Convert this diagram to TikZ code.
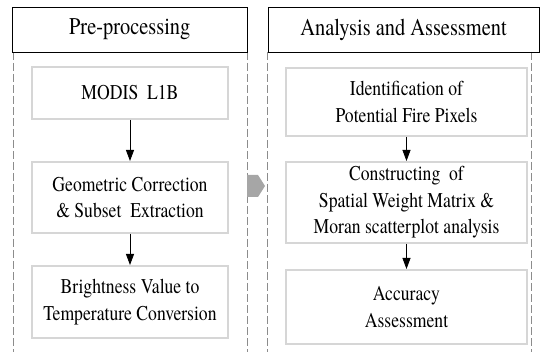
\documentclass[tikz,border=0pt]{standalone}
\usepackage{fontspec}
\setmainfont{TeX Gyre Termes}
\usepackage{graphicx}
\usetikzlibrary{arrows.meta}
\definecolor{boxgray}{HTML}{D6D6D6}
\definecolor{dashgray}{HTML}{8C8C8C}
\definecolor{arrgray}{HTML}{A6A6A6}
\newcommand{\hsq}[2]{\scalebox{#1}[1]{#2}}
\newcommand{\bt}[1]{\hsq{0.84}{#1}}
\tikzset{
  header/.style={draw=black, line width=0.8pt, minimum width=#1, minimum height=45pt, inner sep=0pt, font=\fontsize{24}{28}\selectfont},
  stepbox/.style={draw=boxgray, line width=2pt, minimum width=#1, inner sep=0pt, align=center, font=\fontsize{21}{26.5}\selectfont},
  panelline/.style={draw=dashgray, line width=0.8pt, dash pattern=on 8pt off 3pt},
  flow/.style={draw=black, line width=0.8pt, -{Triangle[length=11pt,width=8pt]}},
}
\begin{document}
\begin{tikzpicture}[x=1pt,y=-1pt]
\useasboundingbox (0,0) rectangle (540,352);
% panel frames
\draw[panelline] (13,52) -- (13,352);
\draw[panelline] (247,52) -- (247,352);
\draw[panelline] (267,52) -- (267,352);
\draw[panelline] (531,52) -- (531,352);
\node[header=234.5pt] (hpre) at (129.75,29.5) {\hsq{0.85}{Pre-processing}};
\node[header=271pt] (hana) at (403.5,29.5) {\hsq{0.85}{Analysis and Assessment}};
% left column
\node[stepbox=196pt, minimum height=52pt] (modis) at (130,93) {\bt{MODIS\ \ L1B}};
\node[stepbox=196pt, minimum height=71pt] (geo) at (130,197.5) {\bt{Geometric Correction}\\\bt{\& Subset\ \ Extraction}};
\node[stepbox=196pt, minimum height=72pt] (bright) at (130,302) {\bt{Brightness Value to}\\\bt{Temperature Conversion}};
% right column
\node[stepbox=241pt, minimum height=68pt] (ident) at (406.5,102) {\bt{Identification of}\\\bt{Potential Fire Pixels}};
\node[stepbox=241pt, minimum height=81pt] (cons) at (406.5,202.5) {\bt{Constructing\ \ of}\\\bt{Spatial Weight Matrix \&}\\\bt{Moran scatterplot analysis}};
\node[stepbox=241pt, minimum height=74pt] (acc) at (406.5,307) {\bt{Accuracy}\\\bt{Assessment}};
% flow arrows
\draw[flow] (modis) -- (geo);
\draw[flow] (geo) -- (bright);
\draw[flow] (ident) -- (cons);
\draw[flow] (cons) -- (acc);
% gray block arrow between panels
\fill[arrgray] (247,175) -- (258,175) -- (265,186) -- (258,197) -- (247,197) -- cycle;
\end{tikzpicture}
\end{document}
